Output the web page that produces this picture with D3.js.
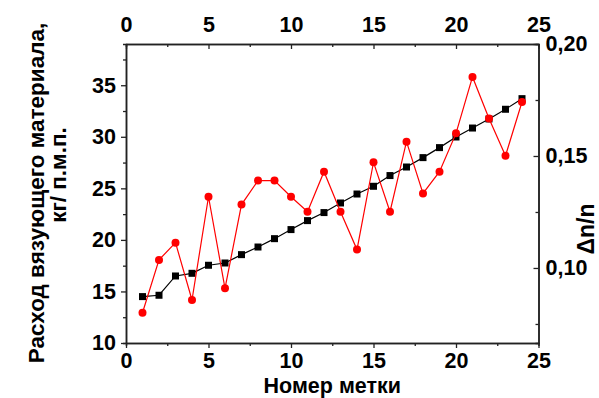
<!DOCTYPE html>
<html>
<head>
<meta charset="utf-8">
<script src="https://cdn.jsdelivr.net/npm/d3@7"></script>
<style>
  body { margin: 0; background: #fff; }
  svg { display: block; font-family: "Liberation Sans", Arial, sans-serif; }
  .tick text { font-weight: bold; font-size: 21.5px; fill: #000; }
  .ttl { font-weight: bold; font-size: 22.5px; fill: #000; }
</style>
</head>
<body>
<div id="chart"></div>
<script>
// DATA
const markNo = [1, 2, 3, 4, 5, 6, 7, 8, 9, 10, 11, 12, 13, 14, 15, 16, 17, 18, 19, 20, 21, 22, 23, 24];
const binder = [14.5, 14.63, 16.5, 16.76, 17.54, 17.76, 18.57, 19.31, 20.12, 21.0, 21.87, 22.65,
                23.58, 24.45, 25.2, 26.24, 27.07, 27.98, 28.95, 29.98, 30.85, 31.73, 32.67, 33.7];
const dnn = [0.080, 0.1036, 0.1113, 0.0857, 0.1318, 0.0909, 0.1283, 0.139, 0.139, 0.1318, 0.1251, 0.143,
             0.1251, 0.1082, 0.1472, 0.1251, 0.1564, 0.1333, 0.143, 0.1601, 0.1853, 0.1667, 0.1501, 0.1741];
const xTicks = [0, 5, 10, 15, 20, 25];
const yLeftTicks = [10, 15, 20, 25, 30, 35];
const yRightTicks = [0.10, 0.15, 0.20];

const settings = {
    width: 599,
    height: 398,
    left: 126,
    right: 538.5,
    top: 44,
    bottom: 343,
};

const svg = d3.select("#chart").append("svg")
    .attr("width", settings.width)
    .attr("height", settings.height);

const x = d3.scaleLinear().domain([0, 25]).range([settings.left, settings.right]);
const yL = d3.scaleLinear().domain([10, 39]).range([settings.bottom, settings.top]);
const yR = d3.scaleLinear().domain([0.0665, 0.20]).range([settings.bottom, settings.top]);

const fmtComma = d => d3.format(".2f")(d).replace(".", ",");
const minorX = d3.range(2.5, 25, 5);
const minorL = d3.range(12.5, 39, 5);
const minorR = [0.075, 0.125, 0.175];

function styleAxis(g) {
    g.selectAll(".domain").attr("stroke", "#222").attr("stroke-width", 1.5);
    g.selectAll(".tick line").attr("stroke", "#222").attr("stroke-width", 1.3);
}

// minor ticks (no labels)
svg.append("g").attr("transform", `translate(0,${settings.bottom})`)
    .call(d3.axisBottom(x).tickValues(minorX).tickSize(3).tickFormat(""))
    .call(styleAxis);
svg.append("g").attr("transform", `translate(0,${settings.top})`)
    .call(d3.axisTop(x).tickValues(minorX).tickSize(-3).tickFormat(""))
    .call(styleAxis);
svg.append("g").attr("transform", `translate(${settings.left},0)`)
    .call(d3.axisLeft(yL).tickValues(minorL).tickSize(3).tickFormat(""))
    .call(styleAxis);
svg.append("g").attr("transform", `translate(${settings.right},0)`)
    .call(d3.axisRight(yR).tickValues(minorR).tickSize(-3).tickFormat(""))
    .call(styleAxis);

// major axes
svg.append("g").attr("transform", `translate(0,${settings.bottom})`)
    .call(d3.axisBottom(x).tickValues(xTicks).tickSize(5).tickSizeOuter(0).tickPadding(5))
    .call(styleAxis);
svg.append("g").attr("transform", `translate(0,${settings.top})`)
    .call(d3.axisTop(x).tickValues(xTicks).tickSize(-5).tickSizeOuter(0).tickPadding(12))
    .call(styleAxis);
svg.append("g").attr("transform", `translate(${settings.left},0)`)
    .call(d3.axisLeft(yL).tickValues(yLeftTicks).tickSize(5).tickSizeOuter(0).tickPadding(5))
    .call(styleAxis);
svg.append("g").attr("transform", `translate(${settings.right},0)`)
    .call(d3.axisRight(yR).tickValues(yRightTicks).tickSize(-5).tickSizeOuter(0).tickPadding(7).tickFormat(fmtComma))
    .call(styleAxis);

svg.selectAll(".tick text").attr("font-family", null).attr("font-size", null);

// series: binder consumption (left axis)
const lineL = d3.line().x((d, i) => x(markNo[i])).y(d => yL(d));
svg.append("path").datum(binder)
    .attr("d", lineL)
    .attr("fill", "none")
    .attr("stroke", "#000")
    .attr("stroke-width", 1.2);
svg.append("g").selectAll("rect").data(binder).join("rect")
    .attr("x", (d, i) => x(markNo[i]) - 3.5)
    .attr("y", d => yL(d) - 3.5)
    .attr("width", 7)
    .attr("height", 7)
    .attr("fill", "#000");

// series: dn/n (right axis)
const lineR = d3.line().x((d, i) => x(markNo[i])).y(d => yR(d));
svg.append("path").datum(dnn)
    .attr("d", lineR)
    .attr("fill", "none")
    .attr("stroke", "#ff0000")
    .attr("stroke-width", 1.2);
svg.append("g").selectAll("circle").data(dnn).join("circle")
    .attr("cx", (d, i) => x(markNo[i]))
    .attr("cy", d => yR(d))
    .attr("r", 4)
    .attr("fill", "#ff0000");

// titles
svg.append("text").attr("class", "ttl")
    .attr("x", (settings.left + settings.right) / 2)
    .attr("y", 393.2)
    .attr("text-anchor", "middle")
    .style("font-size", "21.5px")
    .text("Номер метки");

svg.append("text").attr("class", "ttl")
    .attr("transform", "translate(44,193) rotate(-90)")
    .attr("text-anchor", "middle")
    .text("Расход вязующего материала,");
svg.append("text").attr("class", "ttl")
    .attr("transform", "translate(66,175) rotate(-90)")
    .attr("text-anchor", "middle")
    .text("кг/ п.м.п.");

svg.append("text").attr("class", "ttl")
    .attr("transform", "translate(594,229) rotate(-90)")
    .attr("text-anchor", "middle")
    .style("font-size", "23px")
    .text("Δn/n");
</script>
</body>
</html>
